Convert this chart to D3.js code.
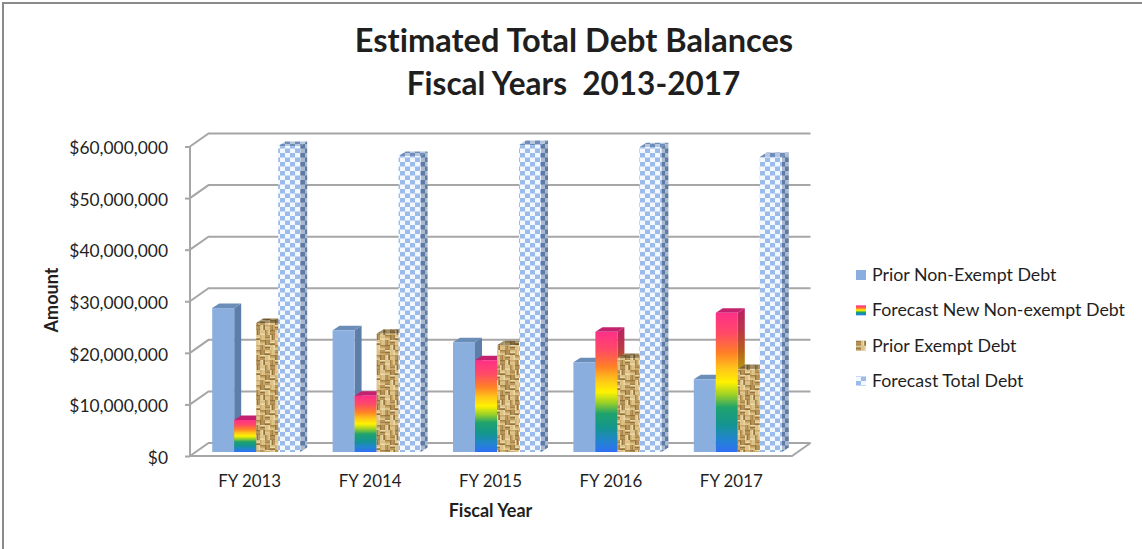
<!DOCTYPE html>
<html>
<head>
<meta charset="utf-8">
<script src="https://cdn.jsdelivr.net/npm/d3@7"></script>
<style>
  html, body { margin: 0; padding: 0; background: #fff; }
  svg { display: block; }
  text { font-family: Lato, "Open Sans", sans-serif; fill: #1f1f1f; font-variant-ligatures: none; }
</style>
</head>
<body>
<svg id="chart" width="1142" height="549"></svg>
<script>
// Chart values, in dollars
const years = ["FY 2013", "FY 2014", "FY 2015", "FY 2016", "FY 2017"];
const seriesNames = ["Prior Non-Exempt Debt", "Forecast New Non-exempt Debt", "Prior Exempt Debt", "Forecast Total Debt"];
const priorNonExempt = [27900000, 23600000, 21300000, 17400000, 14100000];
const forecastNew = [6200000, 10900000, 17800000, 23300000, 27000000];
const priorExempt = [25000000, 22900000, 20700000, 18200000, 16100000];
const forecastTotal = [59300000, 57400000, 59500000, 59100000, 57200000];
const seriesValues = [priorNonExempt, forecastNew, priorExempt, forecastTotal];
const yTicks = [0, 10000000, 20000000, 30000000, 40000000, 50000000, 60000000];
const titleLines = ["Estimated Total Debt Balances", "Fiscal Years  2013-2017"];

const svg = d3.select("#chart");
const defs = svg.append("defs");

// Floor and wall projection of the pseudo-3D box
const wallDx = 18.5, wallDy = -13;
const planeDx = 6, planeDy = -4;
const barDx = 7, barDy = -4.5;
const barWidth = 22;

const x0 = d3.scaleBand().domain(years).range([190, 792]);
const groupWidth = barWidth * seriesNames.length;
const x1 = d3.scaleBand().domain(seriesNames)
  .range([(x0.bandwidth() - groupWidth) / 2, (x0.bandwidth() + groupWidth) / 2]);
const y = d3.scaleLinear().domain([0, 60000000]).range([456, 146.5]);

// ---- fills ----
function rainbow(id, k) {
  const stops = [
    [0, "#2f6ff5"], [0.09, "#2284cf"], [0.2, "#14958f"], [0.32, "#1fa36c"],
    [0.41, "#9ad028"], [0.5, "#fff200"], [0.6, "#ffc41a"], [0.71, "#ff8026"],
    [0.85, "#ff4a66"], [1, "#ff2f88"]
  ];
  const g = defs.append("linearGradient").attr("id", id)
    .attr("x1", 0).attr("y1", 1).attr("x2", 0).attr("y2", 0);
  stops.forEach(([o, c]) => g.append("stop").attr("offset", o).attr("stop-color", d3.color(c).darker(k).formatHex()));
}
rainbow("rainbowFront", 0);
rainbow("rainbowSide", 0.9);

function burlap(id, k) {
  const shades = ["#ecd9a8", "#cdaa68", "#94733c", "#e0c78e", "#b8945a", "#dcc286", "#a58349"];
  const c = v => d3.color(v).darker(k).formatHex();
  const tile = 35, block = 5, strand = 5 / 3;
  const p = defs.append("pattern").attr("id", id).attr("patternUnits", "userSpaceOnUse")
    .attr("width", tile).attr("height", tile);
  p.append("rect").attr("width", tile).attr("height", tile).attr("fill", c("#d2b47a"));
  // Basket weave: blocks of horizontal strands alternate with vertical ones,
  // each strand taking its shade from a fixed cycle
  d3.range(7).forEach(i => d3.range(7).forEach(j => {
    const bx = i * block, by = j * block, horizontal = (i + j) % 2 === 0;
    d3.range(3).forEach(s => {
      const shade = c(shades[(i * 3 + j * 5 + s * 2) % shades.length]);
      p.append("rect")
        .attr("x", horizontal ? bx : bx + s * strand)
        .attr("y", horizontal ? by + s * strand : by)
        .attr("width", horizontal ? block : strand)
        .attr("height", horizontal ? strand : block)
        .attr("fill", shade);
    });
  }));
}
burlap("burlapFront", 0);
burlap("burlapTop", 0.9);

function checker(id, bg, fg) {
  const p = defs.append("pattern").attr("id", id).attr("patternUnits", "userSpaceOnUse")
    .attr("width", 10).attr("height", 9);
  p.append("rect").attr("width", 10).attr("height", 9).attr("fill", bg);
  p.append("rect").attr("x", 0).attr("y", 0).attr("width", 5).attr("height", 4.5).attr("fill", fg);
  p.append("rect").attr("x", 5).attr("y", 4.5).attr("width", 5).attr("height", 4.5).attr("fill", fg);
}
checker("checkFront", "#f3f7fe", "#9bbcea");
checker("checkSide", "#a9b9d0", "#5f7ba3");
checker("checkTop", "#b5c6de", "#6f8db8");

const faces = [
  { front: "#8aaede", side: "#5c7ea8", top: "#6b8eb9" },
  { front: "url(#rainbowFront)", side: "url(#rainbowSide)", top: "#c4226f" },
  { front: "url(#burlapFront)", side: "url(#burlapTop)", top: "url(#burlapTop)" },
  { front: "url(#checkFront)", side: "url(#checkSide)", top: "url(#checkTop)" }
];

// ---- frame around the slide area ----
svg.append("rect").attr("x", 2).attr("y", 2).attr("width", 1142).attr("height", 2).attr("fill", "#8a8a8a");
svg.append("rect").attr("x", 2).attr("y", 2).attr("width", 2).attr("height", 547).attr("fill", "#8a8a8a");

// ---- title ----
svg.append("g").attr("text-anchor", "middle").attr("font-weight", 700)
  .selectAll("text").data(titleLines).join("text")
  .attr("x", (d, i) => i ? 573.5 : 574).attr("y", (d, i) => i ? 95 : 52)
  .attr("font-size", (d, i) => i ? 31.5 : 32.6)
  .style("white-space", "pre").text(d => d);

// ---- walls and floor ----
const gridColor = "#a6a6a6";
const right = x0.range()[1];
const grid = svg.append("g").attr("fill", "none").attr("stroke", gridColor).attr("stroke-width", 2);
grid.selectAll("path.grid").data(yTicks).join("path").attr("class", "grid")
  .attr("d", d => {
    const yy = y(d);
    const p = d3.path();
    p.moveTo(190, yy);
    p.lineTo(190 + wallDx, yy + wallDy);
    p.lineTo(right + wallDx, yy + wallDy);
    return p.toString();
  });
const floor = d3.path();
floor.moveTo(190, y(0));
floor.lineTo(right, y(0));
floor.lineTo(right + wallDx, y(0) + wallDy);
grid.append("path").attr("d", floor.toString());

// ---- value axis ----
const yAxis = d3.axisLeft(y).tickValues(yTicks).tickFormat(d3.format("$,")).tickSize(5).tickPadding(17);
const axisG = svg.append("g").attr("transform", "translate(190,0)").call(yAxis);
axisG.selectAll("path, line").attr("stroke", gridColor).attr("stroke-width", 2);
axisG.select(".domain").attr("d", `M0,${y(60000000)}V${y(0)}`);
axisG.selectAll("text").attr("font-size", 17.4).attr("font-family", "Lato, sans-serif")
  .attr("fill", "#1f1f1f").attr("dy", "0.42em");

// ---- bars, drawn left to right so each front hides the neighbour's side ----
const barsG = svg.append("g");
years.forEach((yr, yi) => {
  seriesNames.forEach((name, si) => {
    const v = seriesValues[si][yi];
    const left = x0(yr) + x1(name) + planeDx;
    const topY = y(v) + planeDy;
    const baseY = y(0) + planeDy;
    const r = left + barWidth;
    const g = barsG.append("g");
    g.append("polygon").attr("fill", faces[si].side)
      .attr("points", [[r, topY], [r + barDx, topY + barDy], [r + barDx, baseY + barDy], [r, baseY]].join(" "));
    g.append("polygon").attr("fill", faces[si].top)
      .attr("points", [[left, topY], [left + barDx, topY + barDy], [r + barDx, topY + barDy], [r, topY]].join(" "));
    g.append("rect").attr("x", left).attr("y", topY).attr("width", barWidth).attr("height", baseY - topY)
      .attr("fill", faces[si].front);
  });
});

// ---- category labels and axis titles ----
svg.append("g").selectAll("text").data(years).join("text")
  .attr("x", d => x0(d) + x0.bandwidth() / 2 - 0.5).attr("y", 487)
  .attr("text-anchor", "middle").attr("font-size", 16.9).text(d => d);
svg.append("text").attr("x", 490.5).attr("y", 517).attr("text-anchor", "middle")
  .attr("font-weight", 700).attr("font-size", 18).text("Fiscal Year");
svg.append("text").attr("transform", "translate(58,300) rotate(-90)").attr("text-anchor", "middle")
  .attr("font-weight", 700).attr("font-size", 18).text("Amount");

// ---- legend ----
const legendY = d3.scalePoint().domain(seriesNames).range([275, 381]);
const legend = svg.append("g").selectAll("g").data(seriesNames).join("g")
  .attr("transform", d => `translate(856,${legendY(d)})`);
legend.append("rect").attr("x", 0).attr("y", -5).attr("width", 10).attr("height", 10)
  .attr("fill", (d, i) => faces[i].front);
legend.append("text").attr("x", 16).attr("y", 6).attr("font-size", 17.8).text(d => d);
</script>
</body>
</html>
